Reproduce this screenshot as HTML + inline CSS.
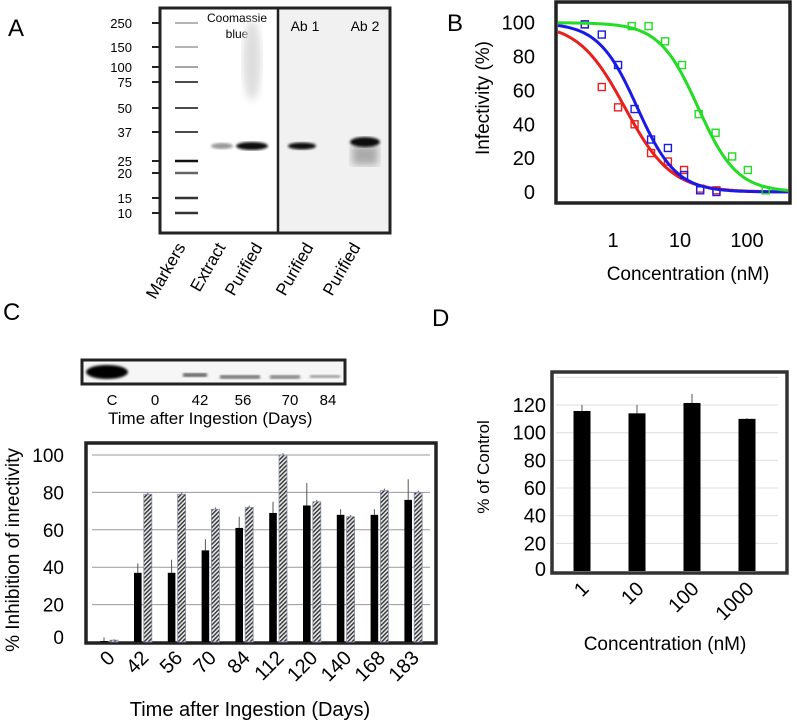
<!DOCTYPE html>
<html><head><meta charset="utf-8"><style>
html,body{margin:0;padding:0;background:#fff}
svg{display:block;font-family:"Liberation Sans",Arial,sans-serif}
</style></head><body>
<svg id="fig" width="797" height="723" viewBox="0 0 797 723" xmlns="http://www.w3.org/2000/svg">
<defs>
<pattern id="hatch" patternUnits="userSpaceOnUse" width="3" height="3" patternTransform="rotate(45)">
<rect width="3" height="3" fill="#e8e8e8"/><rect width="1.4" height="3" fill="#333"/></pattern>
<filter id="blur1"><feGaussianBlur stdDeviation="1.2"/></filter>
<filter id="blur3"><feGaussianBlur stdDeviation="4"/></filter>
</defs>

<!-- Panel A -->
<g>
<text x="8" y="36" font-size="24">A</text>
<rect x="278" y="8" width="112" height="225" fill="#f1f1f1"/>
<rect x="160" y="8" width="230" height="225" fill="none" stroke="#222" stroke-width="3"/>
<line x1="278" y1="8" x2="278" y2="233" stroke="#222" stroke-width="2.5"/>
<text x="237" y="22" font-size="12" text-anchor="middle">Coomassie</text>
<text x="237" y="38" font-size="12" text-anchor="middle">blue</text>
<text x="305" y="31" font-size="14" text-anchor="middle">Ab 1</text>
<text x="365" y="31" font-size="14" text-anchor="middle">Ab 2</text>
<g id="markers"></g>
<ellipse cx="222" cy="146" rx="11" ry="3" fill="#999" filter="url(#blur1)"/>
<ellipse cx="252" cy="60" rx="9" ry="40" fill="#ddd" filter="url(#blur3)"/>
<ellipse cx="252" cy="146" rx="16" ry="4" fill="#111" filter="url(#blur1)"/>
<ellipse cx="302" cy="146" rx="14" ry="3.5" fill="#111" filter="url(#blur1)"/>
<rect x="352" y="145" width="26" height="20" fill="#aaa" filter="url(#blur3)"/>
<ellipse cx="365" cy="142" rx="15" ry="5" fill="#111" filter="url(#blur1)"/>
<g font-size="17">
<text transform="translate(186,247) rotate(-60)" text-anchor="end">Markers</text>
<text transform="translate(226,247) rotate(-60)" text-anchor="end">Extract</text>
<text transform="translate(263,247) rotate(-60)" text-anchor="end">Purified</text>
<text transform="translate(314,247) rotate(-60)" text-anchor="end">Purified</text>
<text transform="translate(361,247) rotate(-60)" text-anchor="end">Purified</text>
</g>
</g>

<!-- Panel B -->
<g id="panelB">
<text x="447" y="31" font-size="24">B</text>
<rect x="556" y="2" width="234" height="201" fill="#fff" stroke="#222" stroke-width="3.5"/>
<text transform="translate(489,98) rotate(-90)" font-size="19" text-anchor="middle">Infectivity (%)</text>
<text x="688" y="280" font-size="19" text-anchor="middle">Concentration (nM)</text>
</g>

<!-- Panel C -->
<g id="panelC">
<text x="3" y="320" font-size="24">C</text>
<rect x="82" y="360" width="263" height="24" fill="#f6f6f6" stroke="#222" stroke-width="3"/>
<ellipse cx="107" cy="372" rx="21" ry="7" fill="#000" filter="url(#blur1)"/>
<rect x="183" y="373" width="24" height="4" fill="#666" filter="url(#blur1)"/>
<rect x="220" y="375" width="40" height="4" fill="#777" filter="url(#blur1)"/>
<rect x="270" y="375" width="30" height="4" fill="#888" filter="url(#blur1)"/>
<rect x="310" y="375" width="30" height="3" fill="#999" filter="url(#blur1)"/>
<g font-size="15" text-anchor="middle">
<text x="112" y="405">C</text>
<text x="155" y="405">0</text>
<text x="200" y="405">42</text>
<text x="243" y="405">56</text>
<text x="290" y="405">70</text>
<text x="328" y="405">84</text>
</g>
<text x="108" y="424" font-size="17">Time after Ingestion (Days)</text>
<rect x="86" y="443" width="350" height="200" fill="#fff" stroke="#222" stroke-width="3.5"/>
<text transform="translate(19,550) rotate(-90)" font-size="19" text-anchor="middle">% Inhibition of inrectivity</text>
<text x="250" y="716" font-size="20" text-anchor="middle">Time after Ingestion (Days)</text>
</g>

<!-- Panel D -->
<g id="panelD">
<text x="432" y="326" font-size="24">D</text>
<rect x="552" y="372" width="235" height="201" fill="#fff" stroke="#333" stroke-width="3.5"/>
<text transform="translate(489,467) rotate(-90)" font-size="17" text-anchor="middle">% of Control</text>
<text x="665" y="650" font-size="19" text-anchor="middle">Concentration (nM)</text>
</g>
</svg>
<script>
const NS="http://www.w3.org/2000/svg";
function mk(tag,attrs,parent){const e=document.createElementNS(NS,tag);for(const k in attrs)e.setAttribute(k,attrs[k]);(parent||document.getElementById('fig')).appendChild(e);return e;}

// Panel A marker ladder
const markerSizes=[250,150,100,75,50,37,25,20,15,10];
const markerRows=[23,47,67,82,108,132,161,173,198,213];
const markerShade=["#aaa","#aaa","#999","#333","#333","#333","#111","#666","#333","#333"];
const mg=document.getElementById('markers');
markerSizes.forEach((s,i)=>{
  const y=markerRows[i];
  const t=mk('text',{x:132,y:y+5,'font-size':13,'text-anchor':'end'},mg);t.textContent=s;
  
  
  const l=mk('line',{x1:152,x2:161,y1:y,y2:y,stroke:'#222','stroke-width':2},mg);
  
  
  const b=mk('line',{x1:175,x2:198,y1:y,y2:y,stroke:markerShade[i],'stroke-width':i>=6?2.5:1.8},mg);
  
  
});

// Panel B: dose-response
const bTicksY=[0,20,40,60,80,100];
const bTicksX=[1,10,100];
const redConc=[0.38,0.68,1.19,2.1,3.7,6.6,11.5,20,35];
const redVal=[99,62,50,40,23,18,13,2,1];
const blueConc=[0.38,0.68,1.19,2.1,3.7,6.6,11.5,20,35];
const blueVal=[99,93,75,49,31,26,10,1,0];
const greenConc=[1.9,3.4,6.0,10.7,19,34,60,103,190];
const greenVal=[98,98,89,75,46,35,21,13,1];
const fitIC50=[1.5,2.3,18.6];
const fitHill=[1.25,1.5,1.5];
const fitColors=["#e8201c","#1a1ae6","#22dd22"];
const bx=c=>613+67*Math.log10(c);
const by=v=>192-1.693*v;
(function(){
  const g=document.getElementById('panelB');
  bTicksY.forEach(v=>{const t=mk('text',{x:535,y:by(v)+7,'font-size':20,'text-anchor':'end'},g);t.textContent=v;
    
    });
  bTicksX.forEach(c=>{const t=mk('text',{x:bx(c),y:247,'font-size':20,'text-anchor':'middle'},g);t.textContent=c;
    
    });
  const sets=[[redConc,redVal],[blueConc,blueVal],[greenConc,greenVal]];
  const names=['red','blue','green'];
  sets.forEach((s,k)=>{
    let d='';
    for(let x=558;x<=789;x+=2){const c=Math.pow(10,(x-613)/67);const v=100/(1+Math.pow(c/fitIC50[k],fitHill[k]));d+=(d?'L':'M')+x+','+by(v).toFixed(1);}
    const p=mk('path',{d:d,fill:'none',stroke:fitColors[k],'stroke-width':3},g);
    
    
    s[0].forEach((c,i)=>{
      const r=mk('rect',{x:bx(c)-3.5,y:by(s[1][i])-3.5,width:7,height:7,fill:'none',stroke:fitColors[k],'stroke-width':1.4},g);
      
      
    });
  });
})();

// Panel C: grouped bars
const cDays=["0","42","56","70","84","112","120","140","168","183"];
const cBlack=[0.5,37,37,49,61,69,73,68,68,76];
const cBlackErr=[2,5,7,6,6,6,12,3,3,11];
const cHatch=[1,79,79,71,72,100,75,67,81,80];
const cHatchErr=[0.5,1,1,1,1,1,1,1,1,1];
const cTicks=[0,20,40,60,80,100];
const cx=i=>104+33.8*i;
const cy=v=>642-1.87*v;
(function(){
  const g=document.getElementById('panelC');
  cTicks.forEach(v=>{
    if(v>0){const l=mk('line',{x1:92,x2:430,y1:cy(v),y2:cy(v),stroke:'#999','stroke-width':1},g);
      
      }
    const t=mk('text',{x:64,y:cy(v)+7-(v===0?5:0),'font-size':19,'text-anchor':'end'},g);t.textContent=v;
    
    
  });
  cDays.forEach((d,i)=>{
    const x=cx(i);
    const e1=mk('line',{x1:x,x2:x,y1:cy(cBlack[i]+cBlackErr[i]),y2:cy(cBlack[i]),stroke:'#555','stroke-width':1},g);
    
    
    const b=mk('rect',{x:x-3.8,y:cy(cBlack[i]),width:7.6,height:642-cy(cBlack[i]),fill:'#000'},g);
    
    
    const hx=x+10;
    const e2=mk('line',{x1:hx,x2:hx,y1:cy(cHatch[i]+cHatchErr[i]),y2:cy(cHatch[i]),stroke:'#555','stroke-width':1},g);
    
    
    const h=mk('rect',{x:hx-4,y:cy(cHatch[i]),width:8,height:642-cy(cHatch[i]),fill:'url(#hatch)',stroke:'#8890b0','stroke-width':0.8},g);
    
    
    const t=mk('text',{transform:'translate('+(x+12)+',659) rotate(-45)','font-size':20,'text-anchor':'end'},g);t.textContent=d;
    
    
  });
})();

// Panel D
const dConc=["1","10","100","1000"];
const dVal=[115.7,114,121.5,110];
const dErr=[4.3,6,6.5,0.5];
const dTicks=[0,20,40,60,80,100,120];
const dGrid=[20,40,60,80,100,120,140];
const dx=i=>582+55*i;
const dy=v=>571-1.383*v;
(function(){
  const g=document.getElementById('panelD');
  dGrid.forEach(v=>{const l=mk('line',{x1:556,x2:778,y1:dy(v),y2:dy(v),stroke:'#ddd','stroke-width':1},g);
    
    });
  dTicks.forEach(v=>{const t=mk('text',{x:546,y:dy(v)+7-(v===0?2:0),'font-size':20,'text-anchor':'end'},g);t.textContent=v;
    
    });
  dConc.forEach((c,i)=>{
    const x=dx(i);
    const e=mk('line',{x1:x,x2:x,y1:dy(dVal[i]+dErr[i]),y2:dy(dVal[i]),stroke:'#555','stroke-width':1},g);
    
    
    const b=mk('rect',{x:x-8.5,y:dy(dVal[i]),width:17,height:571-dy(dVal[i]),fill:'#000'},g);
    
    
    const t=mk('text',{transform:'translate('+(x+8)+',590) rotate(-45)','font-size':20,'text-anchor':'end'},g);t.textContent=c;
    
    
  });
})();
</script>
</body></html>
